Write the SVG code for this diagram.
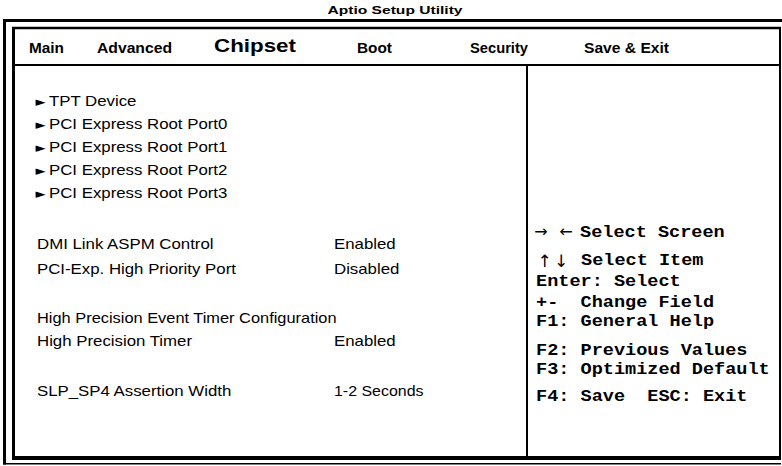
<svg xmlns="http://www.w3.org/2000/svg" width="782" height="466" viewBox="0 0 782 466">
  <style>
    .frame { fill: none; stroke: #000; }
    .title { font-family: "Liberation Sans", Arial, sans-serif; font-weight: bold; font-size: 11px; fill: #000; }
    .tab { font-family: "Liberation Sans", Arial, sans-serif; font-weight: bold; font-size: 14px; fill: #000; }
    .tab-active { font-family: "Liberation Sans", Arial, sans-serif; font-weight: bold; font-size: 18px; fill: #000; }
    .item { font-family: "Liberation Sans", Arial, sans-serif; font-size: 14.5px; fill: #000; }
    .bullet { font-family: "DejaVu Sans", sans-serif; font-size: 13px; fill: #000; }
    .help { font-family: "Liberation Mono", "Courier New", monospace; font-weight: bold; font-size: 16px; fill: #000; white-space: pre; }
    .arr { font-family: "DejaVu Sans", sans-serif; font-size: 16px; fill: #000; }
    .varr { font-family: "DejaVu Sans", sans-serif; font-size: 17px; fill: #000; }
  </style>
  <rect width="782" height="466" fill="#fff"/>

  <!-- title -->
  <text class="title" x="395" y="14" text-anchor="middle" textLength="135" lengthAdjust="spacingAndGlyphs">Aptio Setup Utility</text>

  <!-- frame -->
  <g id="frame">
    <line class="frame" x1="3" y1="20.5" x2="782" y2="20.5" stroke-width="3"/>
    <line class="frame" x1="4.5" y1="19" x2="4.5" y2="464.5" stroke-width="3"/>
    <line class="frame" x1="3" y1="463.8" x2="781" y2="463.8" stroke-width="1.5"/>
    <line class="frame" x1="12" y1="28" x2="781" y2="28" stroke-width="2.5"/>
    <line class="frame" x1="13.5" y1="27" x2="13.5" y2="460" stroke-width="3"/>
    <line class="frame" x1="780" y1="27" x2="780" y2="460" stroke-width="2"/>
    <line class="frame" x1="12" y1="458" x2="781" y2="458" stroke-width="4"/>
    <line class="frame" x1="13" y1="65" x2="780" y2="65" stroke-width="2"/>
    <line class="frame" x1="527" y1="65" x2="527" y2="457" stroke-width="2"/>
  </g>

  <!-- menu tabs -->
  <g id="tabs">
    <text class="tab" x="29" y="53" textLength="35" lengthAdjust="spacingAndGlyphs">Main</text>
    <text class="tab" x="97" y="53" textLength="75" lengthAdjust="spacingAndGlyphs">Advanced</text>
    <text class="tab-active" x="214" y="52" textLength="82" lengthAdjust="spacingAndGlyphs">Chipset</text>
    <text class="tab" x="357" y="53" textLength="35" lengthAdjust="spacingAndGlyphs">Boot</text>
    <text class="tab" x="470" y="53" textLength="58" lengthAdjust="spacingAndGlyphs">Security</text>
    <text class="tab" x="584" y="53" textLength="85" lengthAdjust="spacingAndGlyphs">Save &amp; Exit</text>
  </g>

  <!-- submenu entries (labels drawn 1.16x wide) -->
  <g id="submenus">
    <g id="tpt-device">
      <text class="bullet" x="35.5" y="105.5">►</text>
      <text class="item" transform="translate(49 106) scale(1.16 1)">TPT Device</text>
    </g>
    <g id="root-port0">
      <text class="bullet" x="35.5" y="128.5">►</text>
      <text class="item" transform="translate(49 129) scale(1.16 1)">PCI Express Root Port0</text>
    </g>
    <g id="root-port1">
      <text class="bullet" x="35.5" y="151.5">►</text>
      <text class="item" transform="translate(49 152) scale(1.16 1)">PCI Express Root Port1</text>
    </g>
    <g id="root-port2">
      <text class="bullet" x="35.5" y="174.5">►</text>
      <text class="item" transform="translate(49 175) scale(1.16 1)">PCI Express Root Port2</text>
    </g>
    <g id="root-port3">
      <text class="bullet" x="35.5" y="197.5">►</text>
      <text class="item" transform="translate(49 198) scale(1.16 1)">PCI Express Root Port3</text>
    </g>
  </g>

  <!-- settings -->
  <g id="settings">
    <text class="item" transform="translate(37 249) scale(1.16 1)">DMI Link ASPM Control</text>
    <text class="item" transform="translate(334 249) scale(1.16 1)">Enabled</text>
    <text class="item" transform="translate(37 274) scale(1.16 1)">PCI-Exp. High Priority Port</text>
    <text class="item" transform="translate(334 274) scale(1.16 1)">Disabled</text>
    <text class="item" transform="translate(37 323) scale(1.13 1)">High Precision Event Timer Configuration</text>
    <text class="item" transform="translate(37 346) scale(1.16 1)">High Precision Timer</text>
    <text class="item" transform="translate(334 346) scale(1.16 1)">Enabled</text>
    <text class="item" transform="translate(37 396) scale(1.16 1)">SLP_SP4 Assertion Width</text>
    <text class="item" transform="translate(334 396) scale(1.1 1)">1-2 Seconds</text>
  </g>

  <!-- key help (monospace drawn 1.16x wide) -->
  <g id="help">
    <text class="arr" x="541" y="237" text-anchor="middle">→</text>
    <text class="arr" x="566" y="237" text-anchor="middle">←</text>
    <text class="help" transform="translate(580 237) scale(1.16 1)">Select Screen</text>
    <text class="varr" x="544.5" y="267" text-anchor="middle">↑</text>
    <text class="varr" x="561" y="267" text-anchor="middle">↓</text>
    <text class="help" transform="translate(581 265) scale(1.16 1)">Select Item</text>
    <text class="help" xml:space="preserve" transform="translate(536 286) scale(1.16 1)">Enter: Select</text>
    <text class="help" xml:space="preserve" transform="translate(536 307) scale(1.16 1)">+-  Change Field</text>
    <text class="help" xml:space="preserve" transform="translate(536 326) scale(1.16 1)">F1: General Help</text>
    <text class="help" xml:space="preserve" transform="translate(536 355) scale(1.16 1)">F2: Previous Values</text>
    <text class="help" xml:space="preserve" transform="translate(536 374) scale(1.16 1)">F3: Optimized Default</text>
    <text class="help" xml:space="preserve" transform="translate(536 401) scale(1.16 1)">F4: Save  ESC: Exit</text>
  </g>
</svg>
